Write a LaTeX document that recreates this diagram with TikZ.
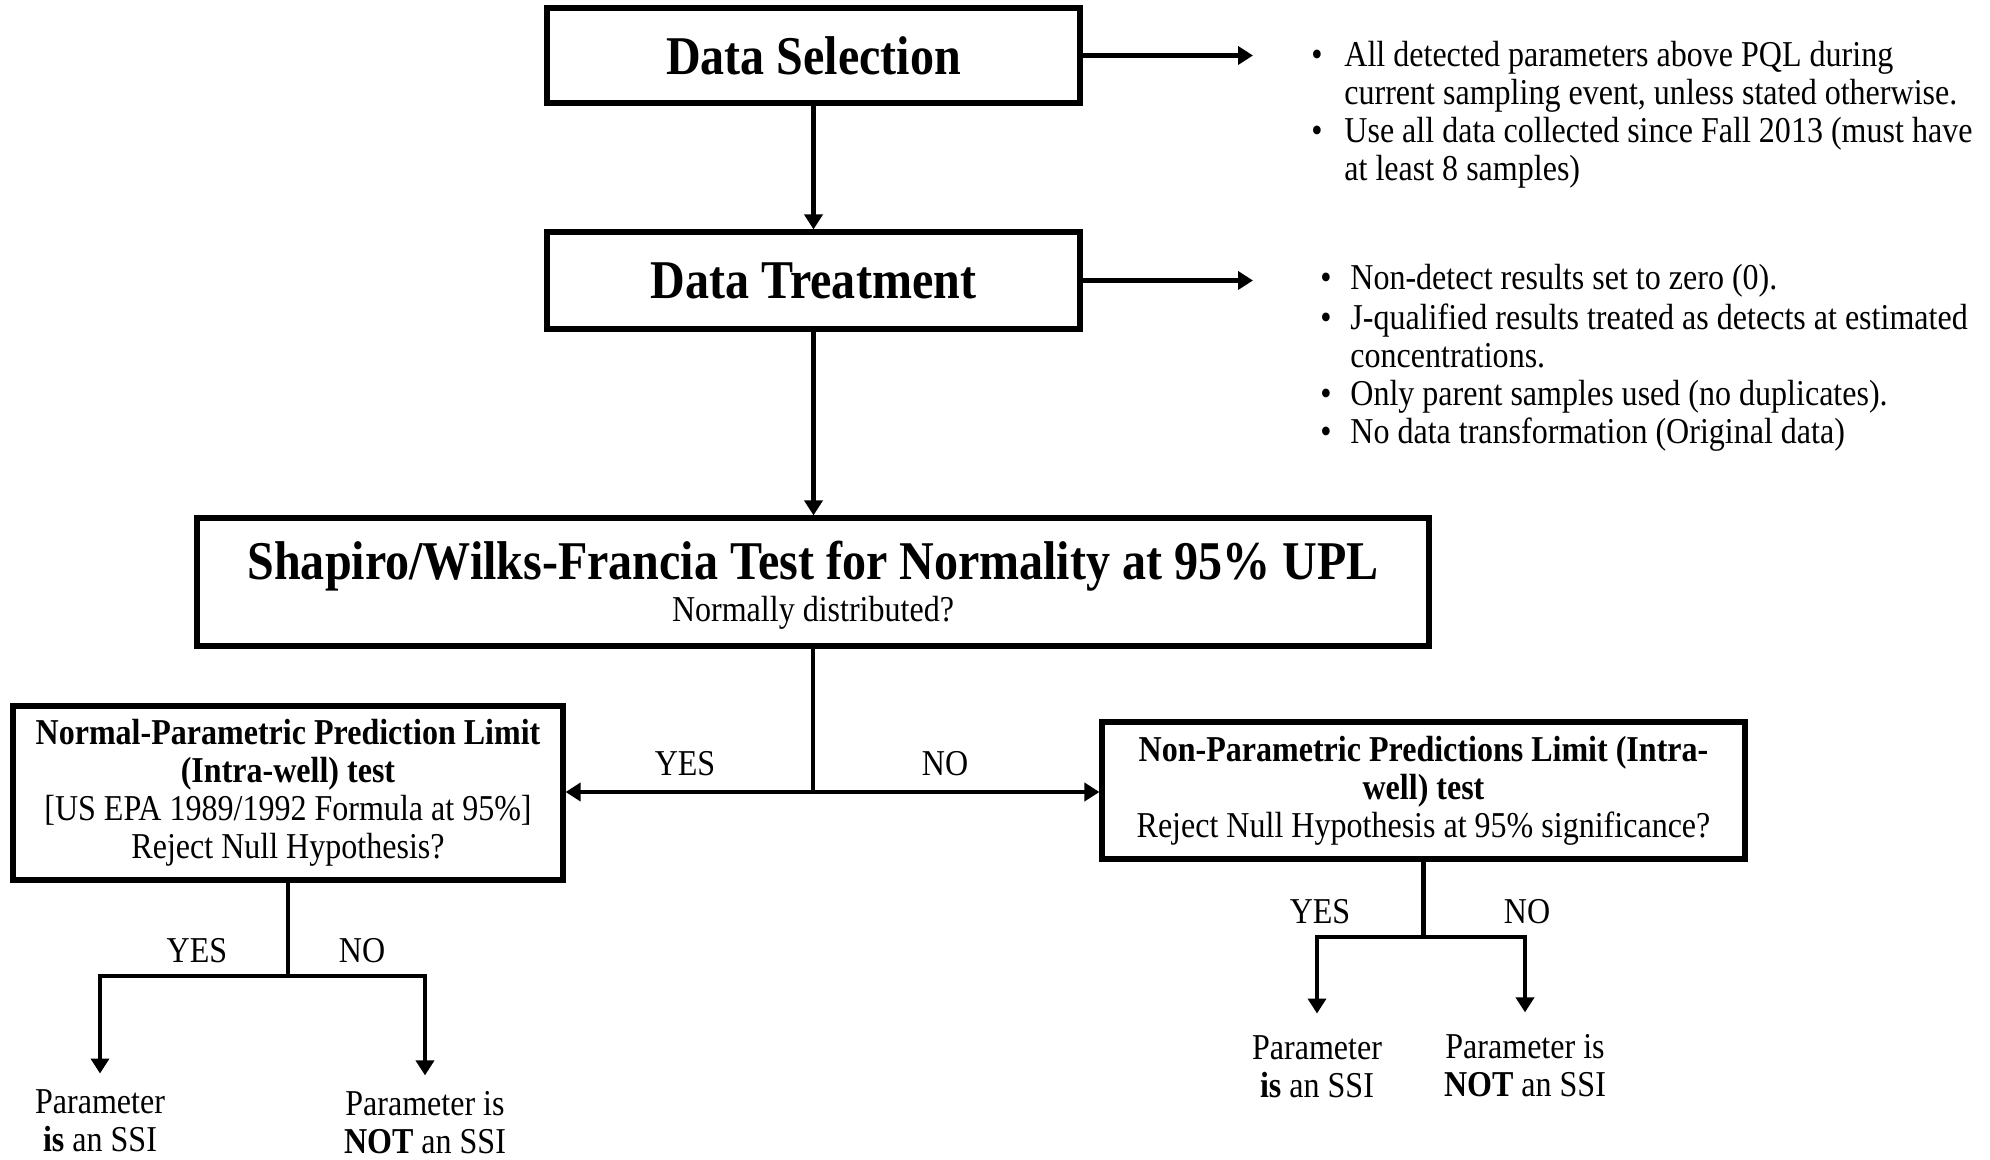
\documentclass[tikz,border=0pt]{standalone}
\usepackage{fontspec}
\setmainfont{Liberation Serif}[FakeStretch=0.88]
\usetikzlibrary{arrows.meta}
\newcommand\bodyfont{\fontsize{18.2pt}{19pt}\selectfont}
\newcommand\titlefont{\fontsize{27.3pt}{30pt}\selectfont\bfseries}
\begin{document}
\begin{tikzpicture}[x=0.5pt,y=-0.5pt,
  box/.style={draw, line width=2.6pt, inner sep=0pt, align=center, font=\bodyfont},
  conn/.style={line width=2.2pt},
  arr/.style={conn, -{Triangle[length=7.5pt,width=9pt]}},
  lbl/.style={inner sep=0pt, font=\bodyfont},
  bl/.style={anchor=base west, inner sep=0pt, font=\bodyfont},
  leaf/.style={inner xsep=0pt, inner ysep=11pt, align=center, font=\bodyfont}]
\useasboundingbox (0,0) rectangle (1990,1160);
% boxes
\node[box, minimum width=266.5pt, minimum height=47.5pt, font=\titlefont] (ds) at (813.5,55.5) {Data Selection};
\node[box, minimum width=266.5pt, minimum height=48.5pt, font=\titlefont] (dt) at (813.5,280.5) {Data Treatment};
\node[box, minimum width=616pt, minimum height=64pt] (sh) at (813,582) {};
\node[inner sep=0pt, font=\titlefont] (shT) at (813,566) {Shapiro/Wilks-Francia Test for Normality at 95\% UPL};
\node[inner sep=0pt, font=\bodyfont] (shS) at (813,613) {Normally distributed?};
\node[box, minimum width=275pt, minimum height=87pt] (np) at (288,793)
  {\textbf{Normal-Parametric Prediction Limit}\\ \textbf{(Intra-well) test}\\ {[}US EPA 1989/1992 Formula at 95\%{]}\\ Reject Null Hypothesis?};
\node[box, minimum width=321.5pt, minimum height=68.5pt] (nonp) at (1423.5,790.5)
  {\textbf{Non-Parametric Predictions Limit (Intra-}\\ \textbf{well) test}\\ Reject Null Hypothesis at 95\% significance?};
% bullet lists
\node[bl] (a1) at (1311,67) {\makebox[16.5pt][l]{\textbullet}All detected parameters above PQL during};
\node[bl] (a2) at (1344,105) {current sampling event, unless stated otherwise.};
\node[bl] (a3) at (1311,143) {\makebox[16.5pt][l]{\textbullet}Use all data collected since Fall 2013 (must have};
\node[bl] (a4) at (1344,181) {at least 8 samples)};
\node[bl] (b1) at (1320,290) {\makebox[15pt][l]{\textbullet}Non-detect results set to zero (0).};
\node[bl] (b2) at (1320,329) {\makebox[15pt][l]{\textbullet}J-qualified results treated as detects at estimated};
\node[bl] (b3) at (1350,367) {concentrations.};
\node[bl] (b4) at (1320,405) {\makebox[15pt][l]{\textbullet}Only parent samples used (no duplicates).};
\node[bl] (b5) at (1320,443) {\makebox[15pt][l]{\textbullet}No data transformation (Original data)};
\coordinate (dsE) at (1253,55.5);
\coordinate (dtE) at (1253,280.5);
% leaves
\node[leaf, inner ysep=8pt] (l1) at (100,1121) {Parameter\\ \textbf{is} an SSI};
\node[leaf, inner ysep=8pt] (l2) at (425,1123) {Parameter is\\ \textbf{NOT} an SSI};
\node[leaf] (r1) at (1317,1067) {Parameter\\ \textbf{is} an SSI};
\node[leaf] (r2) at (1525,1066) {Parameter is\\ \textbf{NOT} an SSI};
% junctions
\coordinate (shj) at (813,792);
\coordinate (npj) at (288,976);
\coordinate (nonj) at (1423.5,937);
% connectors
\draw[arr] (ds.south) -- (dt.north);
\draw[arr] (ds.east) -- (dsE);
\draw[arr] (dt.east) -- (dtE);
\draw[arr] (dt.south) -- (dt.south |- sh.north);
\draw[conn] (sh.south) -- (shj);
\draw[arr] (shj) -- (shj -| np.east);
\draw[arr] (shj) -- (shj -| nonp.west);
\draw[conn] (np.south) -- (npj);
\draw[arr] (npj) -| (l1.north);
\draw[arr] (npj) -| (l2.north);
\draw[conn] (nonp.south) -- (nonj);
\draw[arr] (nonj) -| (r1.north);
\draw[arr] (nonj) -| (r2.north);
% labels
\node[lbl] (y1) at (685,764) {YES};
\node[lbl] (n1) at (945,764) {NO};
\node[lbl] (y2) at (197,951) {YES};
\node[lbl] (n2) at (362,951) {NO};
\node[lbl] (y3) at (1320,912) {YES};
\node[lbl] (n3) at (1527,912) {NO};
\end{tikzpicture}
\end{document}
